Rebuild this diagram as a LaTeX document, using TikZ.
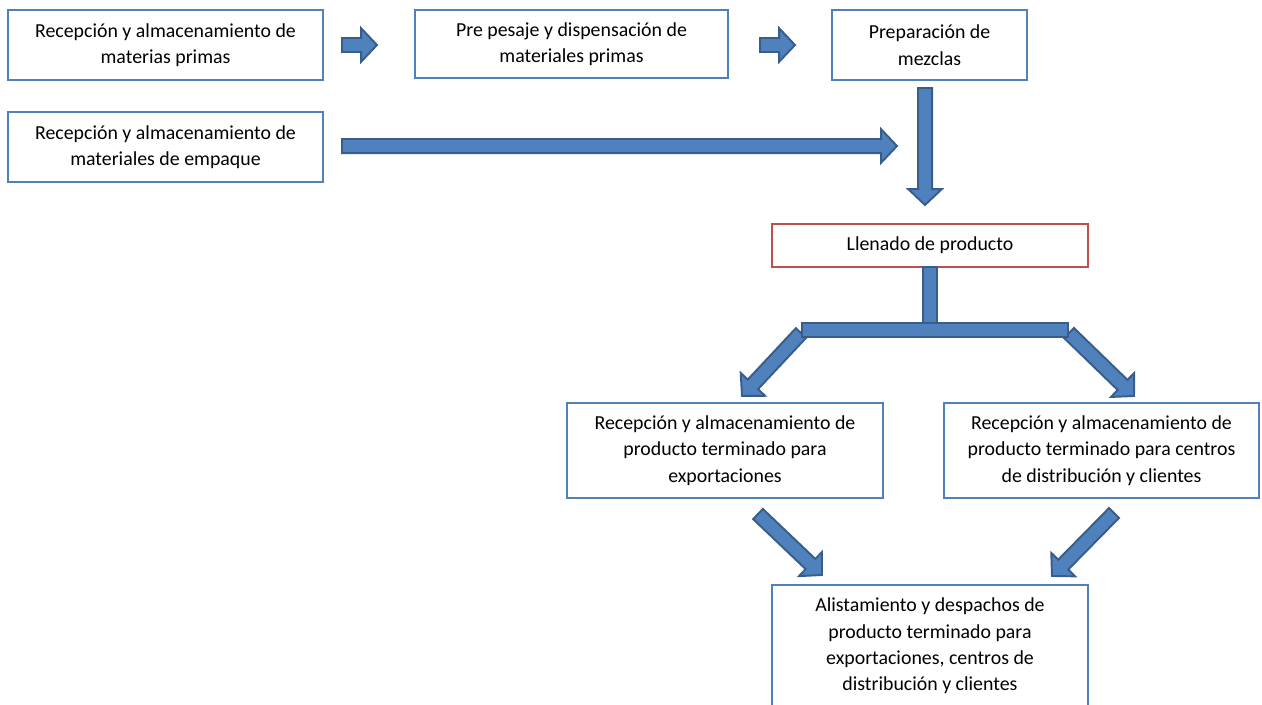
\documentclass[tikz,border=0pt]{standalone}
\usepackage{fontspec}
\setmainfont{Carlito}
\usepackage{xcolor}
\usetikzlibrary{calc}
\definecolor{boxblue}{HTML}{4F81BD}
\definecolor{boxred}{HTML}{C0504D}
\definecolor{arrowfill}{HTML}{4F81BD}
\definecolor{arrowline}{HTML}{385D8A}

\begin{document}
\begin{tikzpicture}[x=0.02cm,y=-0.02cm,
 stage/.style={rectangle,draw=boxblue,line width=1.6pt,fill=white,inner sep=0pt,
  align=center,font=\fontsize{11.3}{15}\selectfont},
 fillstage/.style={stage,draw=boxred},
 blockarrow/.style={draw=arrowline,fill=arrowfill,line width=1.1pt,line join=miter,
  to path={let \p1=($(\tikztotarget)-(\tikztostart)$), \n1={atan2(\y1,\x1)},
   \n2={veclen(\x1,\y1)-9pt} in
   -- ($(\tikztostart)+(\n1+90:4pt)$)
   -- ($(\tikztostart)+(\n1:\n2)+(\n1+90:4pt)$)
   -- ($(\tikztostart)+(\n1:\n2)+(\n1+90:9.5pt)$)
   -- (\tikztotarget)
   -- ($(\tikztostart)+(\n1:\n2)+(\n1-90:9.5pt)$)
   -- ($(\tikztostart)+(\n1:\n2)+(\n1-90:4pt)$)
   -- ($(\tikztostart)+(\n1-90:4pt)$) -- cycle}},
 blockbar/.style={draw=arrowline,fill=arrowfill,line width=1.1pt,line join=miter,
  to path={let \p1=($(\tikztotarget)-(\tikztostart)$), \n1={atan2(\y1,\x1)} in
   -- ($(\tikztostart)+(\n1+90:4pt)$)
   -- ($(\tikztotarget)+(\n1+90:4pt)$)
   -- ($(\tikztotarget)+(\n1-90:4pt)$)
   -- ($(\tikztostart)+(\n1-90:4pt)$) -- cycle}}]
\useasboundingbox (0,0) rectangle (1262,704);
\node[stage,minimum width=6.3cm,minimum height=1.4cm] (rmp) at (165.5,45)
 {Recepción y almacenamiento de\\materias primas};
\node[stage,minimum width=6.26cm,minimum height=1.36cm] (pes) at (571.5,44)
 {Pre pesaje y dispensación de\\materiales primas};
\node[stage,minimum width=3.9cm,minimum height=1.4cm] (mez) at (929.5,45)
 {Preparación de\\mezclas};
\node[stage,minimum width=6.3cm,minimum height=1.4cm] (rme) at (165.5,147)
 {Recepción y almacenamiento de\\materiales de empaque};
\node[fillstage,minimum width=6.32cm,minimum height=0.86cm] (lle) at (930,245.5)
 {Llenado de producto};
\node[stage,minimum width=6.32cm,minimum height=1.9cm] (exp) at (725,450.5)
 {Recepción y almacenamiento de\\producto terminado para\\exportaciones};
\node[stage,minimum width=6.3cm,minimum height=1.9cm] (cen) at (1101.5,450.5)
 {Recepción y almacenamiento de\\producto terminado para centros\\de distribución y clientes};
\node[stage,minimum width=6.32cm,minimum height=2.44cm] (des) at (930,646)
 {Alistamiento y despachos de\\producto terminado para\\exportaciones, centros de\\distribución y clientes};
% arrow end points
\coordinate (rmp-o) at (342,45);  \coordinate (pes-i) at (377,45);
\coordinate (pes-o) at (760,45);  \coordinate (mez-i) at (795,45);
\coordinate (rme-o) at (342,146); \coordinate (rme-t) at (897,146);
\coordinate (mez-o) at (925,88);  \coordinate (mez-t) at (925,205);
\coordinate (lle-o) at (930,267); \coordinate (fork) at (930,330);
\coordinate (fork-l) at (802,330); \coordinate (fork-r) at (1068,330);
\coordinate (exp-i) at (742,396); \coordinate (cen-i) at (1134,396);
\coordinate (exp-o) at (758,514); \coordinate (des-l) at (822,575);
\coordinate (cen-o) at (1114,513); \coordinate (des-r) at (1052,576);
\draw[blockarrow] (rmp-o) to (pes-i);
\draw[blockarrow] (pes-o) to (mez-i);
\draw[blockarrow] (rme-o) to (rme-t);
\draw[blockarrow] (mez-o) to (mez-t);
\draw[blockarrow] ($(fork-l)+(-1,3)$) to (exp-i);
\draw[blockarrow] ($(fork-r)+(1,3)$) to (cen-i);
\draw[blockbar] (lle-o) to (fork);
\draw[blockbar] (fork-l) to (fork-r);
\draw[blockarrow] (exp-o) to (des-l);
\draw[blockarrow] (cen-o) to (des-r);
\end{tikzpicture}
\end{document}
